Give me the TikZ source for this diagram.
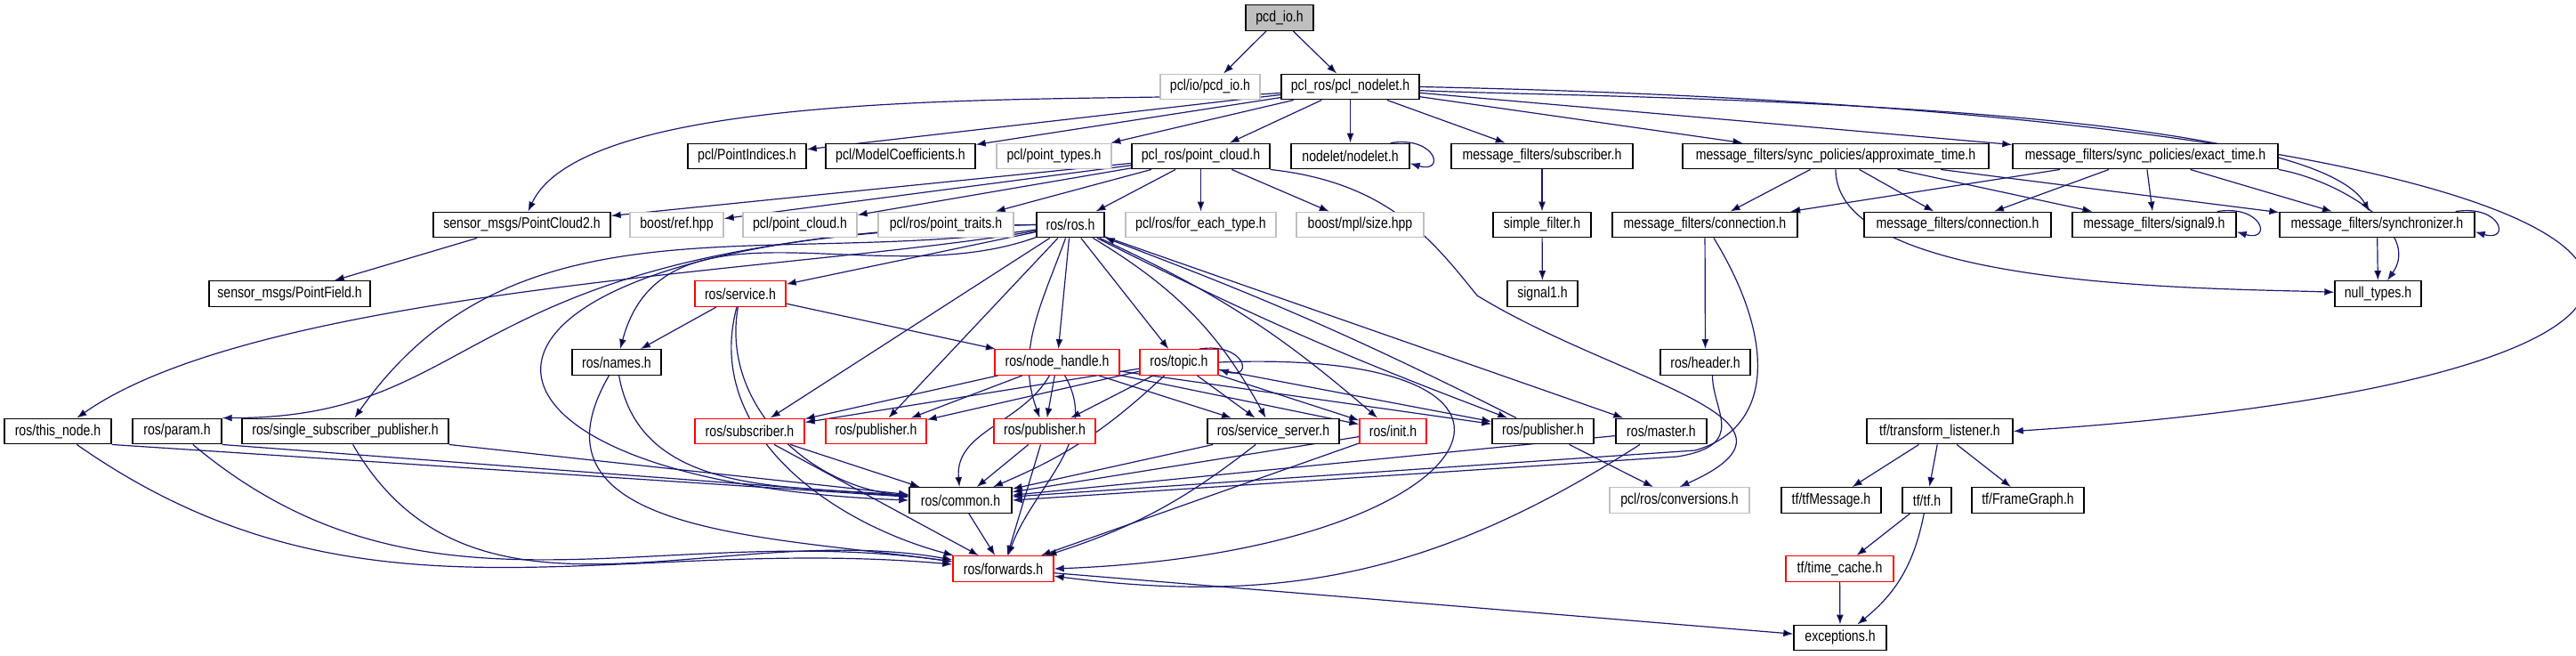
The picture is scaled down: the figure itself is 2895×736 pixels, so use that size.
\documentclass[tikz,border=0pt]{standalone}
\usepackage{fontspec}
\setmainfont{Liberation Sans}[FakeStretch=0.82]
\usetikzlibrary{arrows.meta,backgrounds}
\definecolor{edgeblue}{RGB}{25,25,112}
\definecolor{graybox}{RGB}{191,191,191}
\tikzset{
    hdr/.style={rectangle, draw=black, fill=white, line width=0.7pt, minimum height=14.25pt, inner sep=0pt, font=\fontsize{8.6}{10}\selectfont},
    ext/.style={hdr, draw=graybox},
    trunc/.style={hdr, draw=red},
    root/.style={hdr, fill=graybox},
    wd/.style={minimum width=#1*0.5pt},
    inc/.style={draw=edgeblue, line width=0.6pt, -{Latex[length=5.5pt,width=4pt]}}
}
\newcommand{\selfloop}[1]{\draw[inc] ([xshift=-11pt]#1.north east) .. controls +(26pt,4pt) and +(20pt,-6pt) .. ([yshift=-4pt]#1.east);}

\begin{document}
\begin{tikzpicture}[x=0.5pt, y=-0.5pt]
  \useasboundingbox (0,0) rectangle (2895,736);

  \node [root, wd=76] (pcdio) at (1438,20) {pcd\_io.h};

  \node [ext, wd=112] (pclpcdio) at (1360,97.5) {pcl/io/pcd\_io.h};
  \node [hdr, wd=155] (nodelet) at (1517.5,97.5) {pcl\_ros/pcl\_nodelet.h};

  \node [hdr, wd=133] (indices) at (839.5,175.5) {pcl/PointIndices.h};
  \node [hdr, wd=168] (coeffs) at (1012,175.5) {pcl/ModelCoefficients.h};
  \node [ext, wd=129] (ptypes) at (1184.5,175.5) {pcl/point\_types.h};
  \node [hdr, wd=155] (pcloud) at (1349.5,175.5) {pcl\_ros/point\_cloud.h};
  \node [hdr, wd=133] (ndlt) at (1517.5,175.5) {nodelet/nodelet.h};
  \node [hdr, wd=204] (mfsub) at (1733,175.5) {message\_filters/subscriber.h};
  \node [hdr, wd=344] (approx) at (2063,175.5) {message\_filters/sync\_policies/approximate\_time.h};
  \node [hdr, wd=298] (exact) at (2411,175.5) {message\_filters/sync\_policies/exact\_time.h};

  \node [hdr, wd=199] (pc2) at (586.5,252.5) {sensor\_msgs/PointCloud2.h};
  \node [ext, wd=105] (bref) at (760.5,252.5) {boost/ref.hpp};
  \node [ext, wd=128] (pclcloud) at (899,252.5) {pcl/point\_cloud.h};
  \node [ext, wd=152] (traits) at (1063,252.5) {pcl/ros/point\_traits.h};
  \node [hdr, wd=76] (ros) at (1203,252.5) {ros/ros.h};
  \node [ext, wd=169] (foreach) at (1349.5,252.5) {pcl/ros/for\_each\_type.h};
  \node [ext, wd=143] (mplsize) at (1528.5,252.5) {boost/mpl/size.hpp};
  \node [hdr, wd=110] (sfilter) at (1733,252.5) {simple\_filter.h};
  \node [hdr, wd=208] (conn) at (1916,252.5) {message\_filters/connection.h};
  \node [hdr, wd=210] (connb) at (2200,252.5) {message\_filters/connection.h};
  \node [hdr, wd=184] (sig9) at (2421,252.5) {message\_filters/signal9.h};
  \node [hdr, wd=219] (sync) at (2671.5,252.5) {message\_filters/synchronizer.h};

  \node [hdr, wd=181] (pfield) at (325.5,330) {sensor\_msgs/PointField.h};
  \node [trunc, wd=102] (service) at (832,330) {ros/service.h};
  \node [hdr, wd=79] (sig1) at (1733.5,330) {signal1.h};
  \node [hdr, wd=97] (nulltypes) at (2672.5,330) {null\_types.h};

  \node [hdr, wd=100] (names) at (693,407) {ros/names.h};
  \node [trunc, wd=140] (nhandle) at (1188,407) {ros/node\_handle.h};
  \node [trunc, wd=88] (topic) at (1325,407) {ros/topic.h};
  \node [hdr, wd=101] (header) at (1916.5,407) {ros/header.h};

  \node [hdr, wd=120] (thisnode) at (65,484.5) {ros/this\_node.h};
  \node [hdr, wd=100] (param) at (199,484.5) {ros/param.h};
  \node [hdr, wd=232] (sspub) at (388,484.5) {ros/single\_subscriber\_publisher.h};
  \node [trunc, wd=123] (subscr) at (842.5,484.5) {ros/subscriber.h};
  \node [trunc, wd=113] (puba) at (984.5,484.5) {ros/publisher.h};
  \node [trunc, wd=114] (pubb) at (1174,484.5) {ros/publisher.h};
  \node [hdr, wd=148] (sserver) at (1431,484.5) {ros/service\_server.h};
  \node [trunc, wd=75] (init) at (1565.5,484.5) {ros/init.h};
  \node [hdr, wd=114] (pubc) at (1734,484.5) {ros/publisher.h};
  \node [hdr, wd=102] (master) at (1867,484.5) {ros/master.h};
  \node [hdr, wd=164] (tflist) at (2180,484.5) {tf/transform\_listener.h};

  \node [hdr, wd=115] (common) at (1079.5,562) {ros/common.h};
  \node [ext, wd=157] (conv) at (1887.5,562) {pcl/ros/conversions.h};
  \node [hdr, wd=112] (tfmsg) at (2058,562) {tf/tfMessage.h};
  \node [hdr, wd=55] (tf) at (2165.5,562) {tf/tf.h};
  \node [hdr, wd=126] (fgraph) at (2279,562) {tf/FrameGraph.h};

  \node [trunc, wd=113] (fwd) at (1127.5,639) {ros/forwards.h};
  \node [trunc, wd=121] (tcache) at (2067.5,639) {tf/time\_cache.h};

  \node [hdr, wd=104] (exc) at (2068,716.5) {exceptions.h};

  \begin{scope}[on background layer]
    \fill [white] (0,0) rectangle (2895,736);
    \path [inc] (pcdio) edge (pclpcdio) edge (nodelet);
    \path [inc] (nodelet) edge [out=185, in=65, looseness=0.5] (pc2) edge (indices) edge (coeffs)
      edge (ptypes) edge (pcloud) edge (ndlt) edge (mfsub) edge (approx) edge (exact)
      edge [out=-3, in=120, looseness=0.35] (sync);
    \draw [inc] (nodelet.east) .. controls (3150,130) and (3250,420) .. (tflist.east);
    \path [inc] (pcloud) edge (pc2) edge (bref) edge (pclcloud) edge (traits) edge (ros)
      edge (foreach) edge (mplsize);
    \draw [inc] (pcloud.south east) .. controls (1560,205) and (1610,270) .. (1660,332)
      .. controls (1820,430) and (2060,470) .. (conv.north);
    \path [inc] (pc2) edge (pfield);
    \path [inc] (mfsub) edge (sfilter);
    \path [inc] (sfilter) edge (sig1);
    \path [inc] (approx) edge (conn) edge (connb) edge (sig9) edge (sync)
      edge [out=-90, in=178, looseness=0.6] (nulltypes);
    \path [inc] (exact) edge (conn) edge (connb) edge (sig9) edge (sync);
    \draw [inc] (exact.south east) to [out=-10, in=55] (nulltypes);
    \path [inc] (sync) edge (nulltypes);
    \path [inc] (conn) edge (header);
    \draw [inc] ([xshift=5pt]conn.south) .. controls (1995,380) and (1995,480) .. (1905,506)
      -- ([yshift=2pt]common.east);
    \draw [inc] ([xshift=4pt]header.south) .. controls +(0,-20pt) and (1965,500) .. (1885,513)
      -- (common.east);
    \path [inc] (ros) edge [out=190, in=35, looseness=0.6] (thisnode) edge [out=188, in=55] (sspub)
      edge [out=200, in=75] (names) edge (service) edge (subscr) edge (puba)
      edge [out=-110, in=110] (pubb) edge (nhandle) edge (topic) edge [bend left=15] (sserver)
      edge [bend left=8] (init) edge [bend right=3] (pubc) edge (master);
    \draw [inc] (ros.west) .. controls (500,265) and (560,470) .. (param.north east);
    \draw [inc] (ros.west) .. controls (450,260) and (450,540) .. (common.west);
    \path [inc] (pubc) edge [bend right=3] (ros) edge (conv);
    \path [inc] (service) edge (names) edge (nhandle) edge [out=-100, in=175] (common)
      edge [out=-105, in=165] (fwd);
    \path [inc] (names) edge [out=-80, in=175] (common) edge [out=-120, in=172, looseness=1.2] (fwd);
    \draw [inc] (thisnode.south east) -- (common);
    \draw [inc] (param.south east) -- (common);
    \draw [inc] (sspub.south east) -- (common);
    \path [inc] (thisnode) edge [out=-35, in=175] (fwd);
    \path [inc] (param) edge [out=-40, in=172] (fwd);
    \path [inc] (sspub) edge [out=-60, in=170] (fwd);
    \path [inc] (subscr) edge (common) edge (fwd);
    \path [inc] (pubb) edge (common) edge (fwd);
    \path [inc] (nhandle) edge (subscr) edge (puba) edge (pubb) edge (sserver) edge (init)
      edge (pubc) edge [out=-120, in=95] (common) edge [out=-60, in=70] (fwd);
    \path [inc] (topic) edge (subscr) edge (puba) edge (pubb) edge (sserver) edge (init)
      edge (pubc) edge [bend left=10] (common);
    \draw [inc] (topic.east) .. controls (1800,390) and (1680,620) .. (fwd.east);
    \path [inc] (sserver) edge (common) edge [bend left=10] (fwd);
    \path [inc] (init) edge (common) edge (fwd);
    \path [inc] (master) edge (common) edge [bend left=20] (fwd);
    \path [inc] (common) edge (fwd);
    \path [inc] (fwd) edge (exc);
    \path [inc] (tflist) edge (tfmsg) edge (tf) edge (fgraph);
    \path [inc] (tf) edge (tcache) edge [bend left=20] (exc);
    \path [inc] (tcache) edge (exc);
    \selfloop{ndlt}
    \selfloop{sig9}
    \selfloop{sync}
    \selfloop{topic}
  \end{scope}
\end{tikzpicture}
\end{document}
